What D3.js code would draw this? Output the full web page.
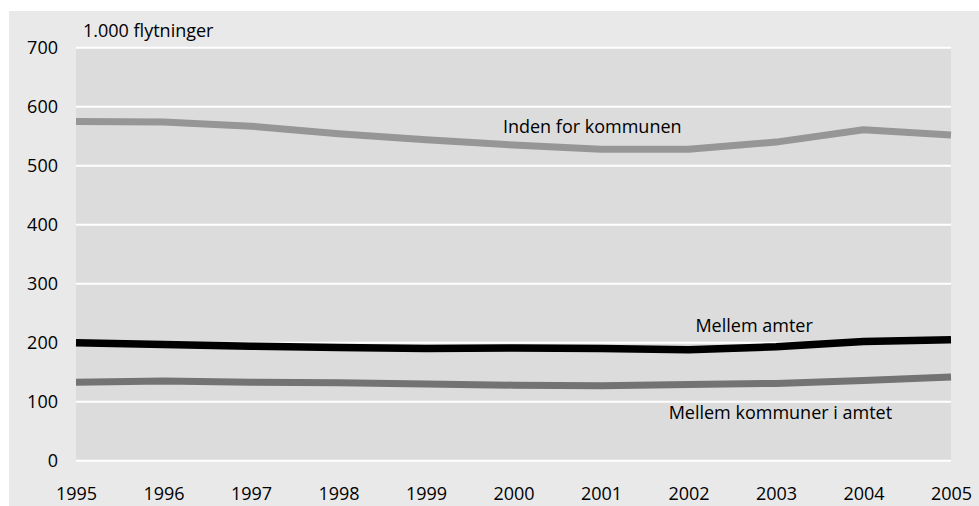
<!DOCTYPE html>
<html>
<head>
<meta charset="utf-8">
<script src="https://cdn.jsdelivr.net/npm/d3@7"></script>
<style>
  body { margin: 0; background: #fff; }
  text { font-family: "Open Sans", "Noto Sans", sans-serif; fill: #000; }
</style>
</head>
<body>
<div id="chart"></div>
<script>
// data
var years = [1995, 1996, 1997, 1998, 1999, 2000, 2001, 2002, 2003, 2004, 2005];
var indenForKommunen = [575, 574, 567, 554, 544, 535, 528, 528, 540, 561, 552];
var mellemAmter = [200, 197, 194, 192, 190, 191, 190, 188, 193, 202, 205];
var mellemKommuner = [133, 135, 133, 132, 130, 128, 127, 129, 131, 136, 142];
var yTicks = [0, 100, 200, 300, 400, 500, 600, 700];

var svgWidth = 979;
var svgHeight = 506;
var fontSize = "18px";

var margin = {
  top: 47.7,
  right: 28,
  bottom: 45.3,
  left: 76
};

var width = svgWidth - margin.left - margin.right;
var height = svgHeight - margin.top - margin.bottom;

var svg = d3.select("#chart")
  .append("svg")
  .attr("width", svgWidth)
  .attr("height", svgHeight);

// outer grey panel
svg.append("rect")
  .attr("x", 9)
  .attr("y", 11)
  .attr("width", svgWidth - 9)
  .attr("height", svgHeight - 11)
  .attr("fill", "#e9e9e9");

var chartGroup = svg.append("g")
  .attr("transform", `translate(${margin.left}, ${margin.top})`);

var xScale = d3.scaleLinear()
  .domain([1995, 2005])
  .range([0, width]);

var yScale = d3.scaleLinear()
  .domain([0, 700])
  .range([height, 0]);

// plot area
chartGroup.append("rect")
  .attr("width", width)
  .attr("height", height)
  .attr("fill", "#dcdcdc");

// white gridlines
chartGroup.selectAll(".grid")
  .data(yTicks)
  .enter()
  .append("line")
  .attr("x1", 0)
  .attr("x2", width)
  .attr("y1", d => yScale(d))
  .attr("y2", d => yScale(d))
  .attr("stroke", "#fff")
  .attr("stroke-width", 2);

// y axis
var leftAxis = d3.axisLeft(yScale)
  .tickValues(yTicks)
  .tickSize(0)
  .tickPadding(18);

var yAxis = chartGroup.append("g").call(leftAxis);
yAxis.select(".domain").remove();
yAxis.selectAll("text")
  .style("font-size", fontSize)
  .style("font-family", "'Open Sans', sans-serif")
  .attr("fill", "#000");

// x axis
var bottomAxis = d3.axisBottom(xScale)
  .tickValues(years)
  .tickFormat(d3.format("d"))
  .tickSize(0)
  .tickPadding(27);

var xAxis = chartGroup.append("g")
  .attr("transform", `translate(0, ${height})`)
  .call(bottomAxis);
xAxis.select(".domain").remove();
xAxis.selectAll("text")
  .style("font-size", fontSize)
  .style("font-family", "'Open Sans', sans-serif")
  .attr("fill", "#000");

// unit label
chartGroup.append("text")
  .attr("x", 7)
  .attr("y", -11)
  .style("font-size", fontSize)
  .text("1.000 flytninger");

var line = d3.line()
  .x((d, i) => xScale(years[i]))
  .y(d => yScale(d));

var series = [
  { values: indenForKommunen, color: "#969696", width: 7 },
  { values: mellemKommuner, color: "#737373", width: 7 },
  { values: mellemAmter, color: "#000000", width: 7.5 }
];

chartGroup.selectAll(".series")
  .data(series)
  .enter()
  .append("path")
  .attr("d", d => line(d.values))
  .attr("fill", "none")
  .attr("stroke", d => d.color)
  .attr("stroke-width", d => d.width)
  .attr("stroke-linejoin", "round");

// series labels
var labels = [
  { text: "Inden for kommunen", year: 2000.9, value: 566 },
  { text: "Mellem amter", year: 2002.75, value: 228 },
  { text: "Mellem kommuner i amtet", year: 2003.05, value: 82 }
];

chartGroup.selectAll(".lbl")
  .data(labels)
  .enter()
  .append("text")
  .attr("x", d => xScale(d.year))
  .attr("y", d => yScale(d.value))
  .attr("text-anchor", "middle")
  .attr("dy", "0.35em")
  .style("font-size", fontSize)
  .text(d => d.text);
</script>
</body>
</html>
